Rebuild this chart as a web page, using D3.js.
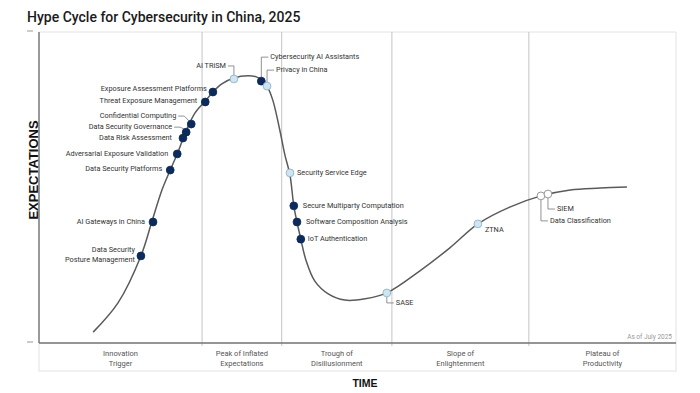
<!DOCTYPE html>
<html>
<head>
<meta charset="utf-8">
<script src="https://cdn.jsdelivr.net/npm/d3@7"></script>
<style>
  body { margin: 0; background: #fff; }
  svg { display: block; font-family: Roboto, "Noto Sans", sans-serif; }
</style>
</head>
<body>
<script>
// curve: time (0-100) and expectations (0-100)
var curveTime = [8.5, 12.4, 16.0, 17.7, 19.3, 20.6, 21.7, 23.1, 24.5, 26.1, 27.3, 28.7, 30.6, 32.8, 34.2, 35.0, 35.8, 36.7, 37.8, 38.6, 39.4, 40.0, 40.5, 41.1, 41.9, 43.3, 45.4, 48.0, 51.2, 54.6, 59.8, 64.5, 68.9, 73.9, 78.8, 83.4, 88.1, 92.3]
var curveExp = [3.5, 12.9, 28.0, 38.9, 49.2, 55.6, 60.8, 68.2, 74.0, 77.8, 80.7, 83.3, 85.2, 85.9, 85.5, 84.6, 82.6, 78.1, 68.5, 60.5, 54.0, 44.1, 38.9, 33.4, 26.7, 19.9, 15.8, 13.8, 14.2, 16.1, 23.2, 30.6, 38.3, 43.7, 47.3, 49.2, 49.8, 50.2]

// technologies
var techNames = ["Data Security\nPosture Management", "AI Gateways in China", "Data Security Platforms", "Adversarial Exposure Validation", "Data Risk Assessment", "Data Security Governance", "Confidential Computing", "Threat Exposure Management", "Exposure Assessment Platforms", "AI TRiSM", "Cybersecurity AI Assistants", "Privacy in China", "Security Service Edge", "Secure Multiparty Computation", "Software Composition Analysis", "IoT Authentication", "SASE", "ZTNA", "Data Classification", "SIEM"]
var techTime = [16.0, 17.9, 20.6, 21.7, 22.6, 23.1, 23.9, 26.1, 27.3, 30.6, 34.9, 35.8, 39.4, 40.0, 40.5, 41.1, 54.6, 68.9, 78.8, 79.9]
var techExp = [28.0, 38.9, 55.6, 60.8, 65.9, 67.8, 70.4, 77.5, 80.7, 84.9, 84.2, 82.6, 54.7, 44.1, 38.9, 33.4, 16.1, 38.3, 47.3, 47.9]
// years to plateau: 1 = less than 2, 2 = 2 to 5, 3 = 5 to 10
var techPlateau = [3, 3, 3, 3, 3, 3, 3, 3, 3, 2, 3, 2, 2, 3, 3, 3, 2, 2, 1, 1]

var phaseNames = ["Innovation\nTrigger", "Peak of Inflated\nExpectations", "Trough of\nDisillusionment", "Slope of\nEnlightenment", "Plateau of\nProductivity"]
var phaseEnds = [25.6, 38.1, 55.4, 76.9, 100]

var titleText = "Hype Cycle for Cybersecurity in China, 2025"
var asOfText = "As of July 2025"

// label placement, pixels from the dot: [dx, dy, anchor, leader]
var labelLayout = {
  "Data Security\nPosture Management": [-6, -1, "end"],
  "AI Gateways in China": [-8, 0, "end"],
  "Data Security Platforms": [-8, -1, "end"],
  "Adversarial Exposure Validation": [-9, 0, "end"],
  "Data Risk Assessment": [-11, 0, "end"],
  "Data Security Governance": [-14, -5, "end", "elbow"],
  "Confidential Computing": [-15, -8, "end", "elbow"],
  "Threat Exposure Management": [-8, -1, "end"],
  "Exposure Assessment Platforms": [-6, -3, "end"],
  "AI TRiSM": [-8, -13, "end", "drop"],
  "Cybersecurity AI Assistants": [9, -24, "start", "drop"],
  "Privacy in China": [9, -16, "start", "drop"],
  "Security Service Edge": [7, 0, "start"],
  "Secure Multiparty Computation": [9, 0, "start"],
  "Software Composition Analysis": [9, 0, "start"],
  "IoT Authentication": [7, 0, "start"],
  "SASE": [9, 10, "start", "drop"],
  "ZTNA": [7, 6, "start"],
  "Data Classification": [9, 25, "start", "drop"],
  "SIEM": [9, 15, "start", "drop"]
}

var dotFill = {1: "#ffffff", 2: "#cfe6f2", 3: "#0d2b5a"}
var dotStroke = {1: "#8c8c8c", 2: "#8fb5c9", 3: "#0d2b5a"}

var W = 700, H = 393
var plotL = 39, plotR = 676, plotT = 32, plotB = 343

var svg = d3.select('body').append('svg')
  .attr('width', W).attr('height', H)

var x = d3.scaleLinear().domain([0, 100]).range([plotL, plotR])
var y = d3.scaleLinear().domain([0, 100]).range([plotB, plotT])

svg.append('text')
  .attr('x', 27).attr('y', 22)
  .attr('font-size', 14).attr('font-weight', 500).attr('fill', '#1a1a1a')
  .text(titleText)

// frame
svg.append('line').attr('x1', plotL).attr('x2', plotR).attr('y1', plotT).attr('y2', plotT)
  .attr('stroke', '#e2e2e2')
svg.append('line').attr('x1', plotR).attr('x2', plotR).attr('y1', plotT).attr('y2', plotB)
  .attr('stroke', '#e2e2e2')
svg.append('rect')
  .attr('x', plotL).attr('y', plotB).attr('width', plotR - plotL).attr('height', 28)
  .attr('fill', 'none').attr('stroke', '#e2e2e2')

// phase dividers
svg.append('g').selectAll('line')
  .data(phaseEnds.slice(0, -1))
  .join('line')
  .attr('x1', function (d) { return x(d) }).attr('x2', function (d) { return x(d) })
  .attr('y1', plotT).attr('y2', plotB + 3)
  .attr('stroke', '#c4c4c4')

// axes
svg.append('line').attr('x1', plotL).attr('x2', plotL).attr('y1', plotT).attr('y2', plotB)
  .attr('stroke', '#777').attr('stroke-width', 1.5)
svg.append('line').attr('x1', plotL).attr('x2', plotR).attr('y1', plotB).attr('y2', plotB)
  .attr('stroke', '#777').attr('stroke-width', 1.5)
svg.selectAll('.dash')
  .data([100, 0])
  .join('line')
  .attr('x1', 27).attr('x2', 33)
  .attr('y1', function (d) { return y(d) - 1 }).attr('y2', function (d) { return y(d) - 1 })
  .attr('stroke', '#999')

// phase labels
var phaseStarts = [0].concat(phaseEnds.slice(0, -1))
svg.append('g').selectAll('text')
  .data(phaseNames)
  .join('text')
  .attr('x', function (d, i) { return x((phaseStarts[i] + phaseEnds[i]) / 2) })
  .attr('y', 355.5)
  .attr('text-anchor', 'middle').attr('font-size', 7.5).attr('fill', '#555')
  .selectAll('tspan')
  .data(function (d) { return d.split('\n') })
  .join('tspan')
  .attr('x', function () { return this.parentNode.getAttribute('x') })
  .attr('dy', function (d, i) { return i ? 10.5 : 0 })
  .text(function (d) { return d })

svg.append('text')
  .attr('x', 672).attr('y', 339)
  .attr('text-anchor', 'end').attr('font-size', 6.5).attr('fill', '#999')
  .text(asOfText)

svg.append('text')
  .attr('x', 365).attr('y', 387)
  .attr('text-anchor', 'middle').attr('font-family', '"Liberation Sans", Arial, sans-serif')
  .attr('font-size', 10.5).attr('font-weight', 'bold').attr('fill', '#111')
  .text('TIME')

svg.append('text')
  .attr('transform', 'translate(37.5,170) rotate(-90)')
  .attr('text-anchor', 'middle').attr('font-family', '"Liberation Sans", Arial, sans-serif')
  .attr('font-size', 13).attr('font-weight', 'bold').attr('fill', '#111')
  .text('EXPECTATIONS')

// the hype curve
var line = d3.line()
  .x(function (d) { return x(d[0]) })
  .y(function (d) { return y(d[1]) })
  .curve(d3.curveCatmullRom.alpha(0.5))

svg.append('path')
  .datum(d3.zip(curveTime, curveExp))
  .attr('d', line)
  .attr('fill', 'none').attr('stroke', '#5a5a5a').attr('stroke-width', 1.5)

var techs = techNames.map(function (n, i) {
  return { name: n, t: techTime[i], e: techExp[i], p: techPlateau[i], lay: labelLayout[n] }
})

// leaders
var leaders = svg.append('g')
techs.filter(function (d) { return d.lay[3] }).forEach(function (d) {
  var cx = x(d.t), cy = y(d.e), dx = d.lay[0], dy = d.lay[1]
  var pts
  if (d.lay[3] === 'drop') {
    // vertical from dot then short horizontal to text
    var s = d.lay[2] === 'start' ? 1 : -1
    pts = [[cx, cy + (dy > 0 ? 4 : -4)], [cx, cy + dy], [cx + dx - 2 * s, cy + dy]]
  } else {
    pts = [[cx + dx + 2, cy + dy], [cx + dx + 8, cy + dy], [cx - 2, cy - 3]]
  }
  leaders.append('path')
    .attr('d', d3.line()(pts))
    .attr('fill', 'none').attr('stroke', '#777').attr('stroke-width', 0.8)
})

svg.append('g').selectAll('circle')
  .data(techs)
  .join('circle')
  .attr('cx', function (d) { return x(d.t) })
  .attr('cy', function (d) { return y(d.e) })
  .attr('r', 3.9)
  .attr('fill', function (d) { return dotFill[d.p] })
  .attr('stroke', function (d) { return dotStroke[d.p] })
  .attr('stroke-width', 0.9)

svg.append('g').selectAll('text')
  .data(techs)
  .join('text')
  .attr('x', function (d) { return x(d.t) + d.lay[0] })
  .attr('y', function (d) { return y(d.e) + d.lay[1] })
  .attr('text-anchor', function (d) { return d.lay[2] })
  .attr('dominant-baseline', 'middle')
  .attr('font-size', 7.3).attr('fill', '#333')
  .each(function (d) {
    var parts = d.name.split('\n')
    var el = d3.select(this)
    var x0 = x(d.t) + d.lay[0]
    parts.forEach(function (p, i) {
      el.append('tspan')
        .attr('x', x0)
        .attr('dy', i ? 10.5 : -(parts.length - 1) * 5.25)
        .text(p)
    })
  })
</script>
</body>
</html>
